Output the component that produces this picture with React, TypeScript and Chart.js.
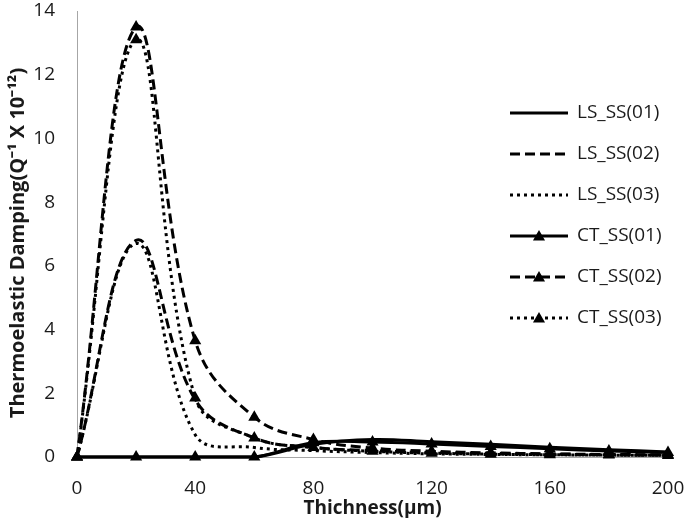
import React, { useEffect, useRef } from 'react';
import { Chart, registerables } from 'chart.js';

Chart.register(...registerables);

// ---- data ----
const thickness = [0, 20, 40, 60, 80, 100, 120, 140, 160, 180, 200];
const lsSS01 = [0, 0, 0, 0, 0.4, 0.55, 0.48, 0.4, 0.31, 0.23, 0.16];
const lsSS02 = [0, 6.8, 1.8, 0.6, 0.3, 0.2, 0.14, 0.11, 0.09, 0.07, 0.06];
const lsSS03 = [0, 6.7, 0.7, 0.3, 0.2, 0.14, 0.1, 0.08, 0.07, 0.06, 0.05];
const ctSS01 = [0, 0, 0, 0, 0.45, 0.47, 0.41, 0.33, 0.26, 0.19, 0.14];
const ctSS02 = [0, 13.5, 3.65, 1.25, 0.55, 0.28, 0.18, 0.13, 0.1, 0.08, 0.07];
const ctSS03 = [0, 13.1, 1.85, 0.6, 0.3, 0.18, 0.12, 0.09, 0.07, 0.06, 0.05];
const seriesNames = ['LS_SS(01)', 'LS_SS(02)', 'LS_SS(03)', 'CT_SS(01)', 'CT_SS(02)', 'CT_SS(03)'];
const xTickValues = [0, 40, 80, 120, 160, 200];
const yTickValues = [0, 2, 4, 6, 8, 10, 12, 14];
const xTitle = 'Thichness(μm)';
const yTitle = 'Thermoelastic Damping(Q⁻¹ X 10⁻¹²)';

const FONT = "'Open Sans', sans-serif";
const TEXT = '#1a1a1a';

const SOLID: number[] = [];
const DASH = [10, 5];
const DOT = [3, 4];

function drawTriangle(ctx: CanvasRenderingContext2D, x: number, y: number, r: number) {
  ctx.beginPath();
  ctx.moveTo(x, y - r);
  ctx.lineTo(x + r * 0.866, y + r * 0.5);
  ctx.lineTo(x - r * 0.866, y + r * 0.5);
  ctx.closePath();
  ctx.fill();
}

const legendPlugin = {
  id: 'excelLegend',
  afterDraw(chart: any) {
    const ctx: CanvasRenderingContext2D = chart.ctx;
    const area = chart.chartArea;
    const x0 = area.right - 158;
    const x1 = area.right - 100;
    const tx = area.right - 91;
    const startY = 113;
    const gap = 41;
    chart.data.datasets.forEach((ds: any, i: number) => {
      const y = startY + i * gap;
      ctx.save();
      ctx.strokeStyle = '#000';
      ctx.lineWidth = 3;
      ctx.setLineDash(ds.borderDash || []);
      ctx.lineCap = 'butt';
      ctx.beginPath();
      ctx.moveTo(x0, y);
      ctx.lineTo(x1, y);
      ctx.stroke();
      ctx.setLineDash([]);
      if (ds.pointRadius > 0) {
        ctx.fillStyle = '#000';
        drawTriangle(ctx, (x0 + x1) / 2, y + 1, 7);
      }
      ctx.fillStyle = TEXT;
      ctx.font = `19px ${FONT}`;
      ctx.textBaseline = 'middle';
      ctx.textAlign = 'left';
      ctx.fillText(ds.label, tx, y);
      ctx.restore();
    });
  },
};

const yTitlePlugin = {
  id: 'yTitle',
  afterDraw(chart: any) {
    const ctx: CanvasRenderingContext2D = chart.ctx;
    const area = chart.chartArea;
    ctx.save();
    ctx.translate(18.5, (area.top + area.bottom) / 2 + 9);
    ctx.rotate(-Math.PI / 2);
    ctx.fillStyle = TEXT;
    ctx.font = `bold 20px ${FONT}`;
    ctx.textAlign = 'center';
    ctx.textBaseline = 'middle';
    ctx.fillText(yTitle, 0, 0);
    ctx.restore();
  },
};

function toPoints(values: number[]) {
  return thickness.map((x, i) => ({ x, y: values[i] }));
}

export default function App() {
  const canvasRef = useRef<HTMLCanvasElement | null>(null);

  useEffect(() => {
    if (!canvasRef.current) return;
    const allValues = [lsSS01, lsSS02, lsSS03, ctSS01, ctSS02, ctSS03];
    const dashes = [SOLID, DASH, DOT, SOLID, DASH, DOT];
    const datasets = allValues.map((vals, i) => ({
      label: seriesNames[i],
      data: toPoints(vals),
      borderColor: '#000',
      backgroundColor: '#000',
      borderWidth: 3,
      borderDash: dashes[i],
      tension: 0.4,
      pointStyle: 'triangle',
      pointRadius: i >= 3 ? 7 : 0,
      pointHoverRadius: i >= 3 ? 7 : 0,
      pointBackgroundColor: '#000',
      pointBorderColor: '#000',
      pointBorderWidth: 0,
      clip: false as any,
      order: 6 - i,
    }));

    const chart = new Chart(canvasRef.current, {
      type: 'line',
      data: { datasets },
      options: {
        responsive: false,
        animation: false,
        events: [],
        layout: { padding: { top: 11, right: 17, bottom: 0, left: 0 } },
        plugins: {
          legend: { display: false },
          tooltip: { enabled: false },
        },
        scales: {
          x: {
            type: 'linear',
            min: 0,
            max: 200,
            afterBuildTicks: (s: any) => {
              s.ticks = xTickValues.map((v) => ({ value: v }));
            },
            ticks: { padding: 20, color: TEXT, font: { family: FONT, size: 19 } },
            grid: { display: false, drawTicks: false },
            border: { display: true, color: '#a6a6a6', width: 1 },
            title: {
              display: true,
              text: xTitle,
              color: TEXT,
              font: { family: FONT, size: 19, weight: 'bold', lineHeight: 1 },
              padding: { top: 0, bottom: 0 },
            },
            afterFit: (s: any) => {
              s.height = 61;
              s.paddingLeft = 0;
              s.paddingRight = 0;
            },
          },
          y: {
            type: 'linear',
            min: 0,
            max: 14,
            afterBuildTicks: (s: any) => {
              s.ticks = yTickValues.map((v) => ({ value: v }));
            },
            ticks: { padding: 22, color: TEXT, font: { family: FONT, size: 19 } },
            grid: { display: false, drawTicks: false },
            border: { display: true, color: '#a6a6a6', width: 1 },
            title: { display: false },
            afterFit: (s: any) => {
              s.width = 77;
              s.paddingTop = 0;
              s.paddingBottom = 0;
            },
          },
        },
      } as any,
      plugins: [legendPlugin, yTitlePlugin],
    });
    return () => chart.destroy();
  }, []);

  return (
    <div style={{ position: 'fixed', left: 0, top: 0, width: 685, height: 518, background: '#fff' }}>
      <canvas ref={canvasRef} width={685} height={518} style={{ width: 685, height: 518 }} />
    </div>
  );
}
